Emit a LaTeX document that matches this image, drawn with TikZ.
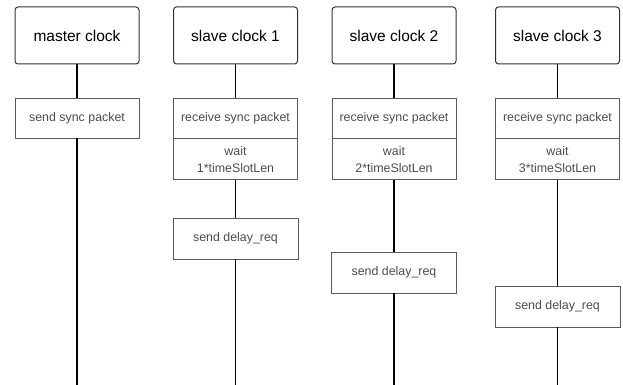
\documentclass[tikz,border=0pt]{standalone}
\usepackage{fontspec}
\setmainfont{Liberation Sans}
\begin{document}
\begin{tikzpicture}[x=1pt,y=-1pt,line join=round,
	clock/.style={draw=black!80,line width=1pt,rounded corners=3pt,minimum width=124pt,minimum height=57pt,inner sep=0pt,font=\fontsize{15.5}{18}\selectfont},
	task/.style={draw=black!65,line width=0.9pt,minimum width=124pt,minimum height=40pt,inner sep=0pt,align=center,text=black!70,font=\fontsize{12.4}{17}\selectfont},
	life/.style={line width=1.6pt}]
	\useasboundingbox (0,0) rectangle (623,385);
	% master
	\node[clock] (master) at (77,35.5) {master clock};
	\node[task] (msync) at (77,118) {send sync packet};
	\coordinate (mend) at (77,385);
	\draw[life] (master)--(msync) (msync)--(mend);
	% slaves
	\foreach \i/\x/\y in {1/235.5/238.5, 2/394/272.5, 3/557.5/306.5}
	{\node[clock] (slave\i) at (\x,35.5) {slave clock \i};
		\node[task] (recv\i) at (\x,118) {receive sync packet};
		\node[task,minimum height=41pt,anchor=north] (wait\i) at (recv\i.south) {wait\\\i*timeSlotLen};
		\node[task,minimum width=125pt,minimum height=41pt] (delay\i) at (\x,\y) {send delay\_req};
		\coordinate (end\i) at (\x,385);
		\draw[life] (slave\i)--(recv\i) (wait\i)--(delay\i) (delay\i)--(end\i);}
\end{tikzpicture}
\end{document}
